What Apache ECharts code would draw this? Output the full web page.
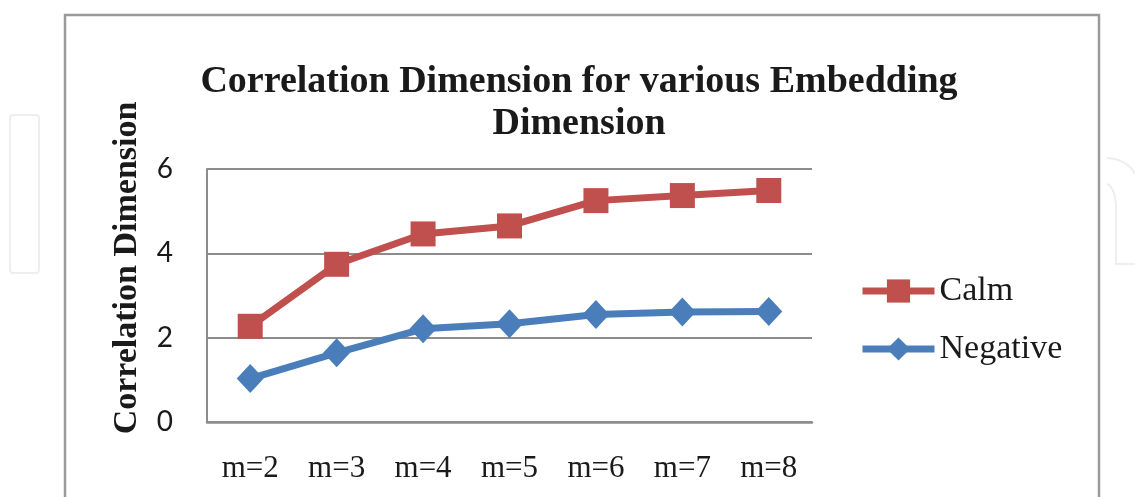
<!DOCTYPE html>
<html>
<head>
<meta charset="utf-8">
<title>Correlation Dimension for various Embedding Dimension</title>
<script src="https://cdn.jsdelivr.net/npm/echarts@6/dist/echarts.min.js"></script>
<style>
  html, body { margin: 0; padding: 0; background: #ffffff; }
  #chart { width: 1135px; height: 497px; }
</style>
</head>
<body>
<div id="chart"></div>
<script>
// Embedding dimensions on the x axis
const categories = ['m=2', 'm=3', 'm=4', 'm=5', 'm=6', 'm=7', 'm=8'];
// Correlation dimension per embedding dimension
const calmValues = [2.27, 3.74, 4.46, 4.65, 5.25, 5.37, 5.49];
const negativeValues = [1.03, 1.64, 2.21, 2.33, 2.55, 2.61, 2.62];
// Value axis ticks
const yTicks = [0, 2, 4, 6];

const serif = '"Liberation Serif", "Times New Roman", serif';
const sans = 'Lato, "Noto Sans", sans-serif';
const gridGray = '#8c8c8c';

const chart = echarts.init(document.getElementById('chart'), null, { renderer: 'canvas' });

chart.setOption({
  backgroundColor: '#ffffff',
  animation: false,
  title: {
    text: 'Correlation Dimension for various Embedding\nDimension',
    left: 574,
    textAlign: 'center',
    top: 56,
    textStyle: {
      fontFamily: serif,
      fontWeight: 'bold',
      fontSize: 38,
      lineHeight: 42,
      color: '#1a1a1a'
    }
  },
  legend: {
    orient: 'vertical',
    left: 854,
    top: 269,
    itemWidth: 72,
    itemHeight: 29,
    itemGap: 24,
    lineStyle: { width: 7 },
    textStyle: {
      fontFamily: serif,
      fontSize: 34,
      color: '#1a1a1a'
    },
    data: ['Calm', 'Negative']
  },
  grid: {
    left: 207,
    right: 323,
    top: 169,
    bottom: 75,
    containLabel: false
  },
  xAxis: {
    type: 'category',
    data: categories,
    boundaryGap: true,
    axisLine: { lineStyle: { color: gridGray, width: 2.5 } },
    axisTick: { show: false },
    axisLabel: {
      margin: 31,
      fontFamily: serif,
      fontSize: 31,
      color: '#1a1a1a'
    }
  },
  yAxis: {
    type: 'value',
    min: yTicks[0],
    max: yTicks[yTicks.length - 1],
    interval: 2,
    name: 'Correlation Dimension',
    nameLocation: 'middle',
    nameGap: 63,
    nameTextStyle: {
      fontFamily: serif,
      fontWeight: 'bold',
      fontSize: 34,
      color: '#1a1a1a',
      padding: [0, 0, 0, 55]
    },
    axisLine: { show: true, lineStyle: { color: gridGray, width: 2 } },
    axisTick: { show: false },
    axisLabel: {
      margin: 34,
      fontFamily: sans,
      fontSize: 28,
      color: '#1a1a1a'
    },
    splitLine: { lineStyle: { color: gridGray, width: 2 } }
  },
  series: [
    {
      name: 'Calm',
      type: 'line',
      data: calmValues,
      symbol: 'rect',
      symbolSize: 25,
      color: '#c0504d',
      lineStyle: { width: 7, color: '#c0504d' },
      itemStyle: { color: '#c0504d' },
      z: 3
    },
    {
      name: 'Negative',
      type: 'line',
      data: negativeValues,
      symbol: 'diamond',
      symbolSize: [27, 29],
      color: '#4a7ebb',
      lineStyle: { width: 7, color: '#4a7ebb' },
      itemStyle: { color: '#4a7ebb' },
      z: 3
    }
  ],
  graphic: [
    // chart frame
    {
      type: 'rect',
      shape: { x: 65, y: 15, width: 1034, height: 500 },
      style: { fill: 'none', stroke: '#9a9a9a', lineWidth: 2.5 },
      silent: true,
      z: -1
    },
    // faint page decoration on the left
    {
      type: 'rect',
      shape: { x: 10, y: 115, width: 29, height: 158, r: 3 },
      style: { fill: 'none', stroke: '#eeeeee', lineWidth: 2 },
      silent: true,
      z: -2
    },
    // faint page decoration on the right
    {
      type: 'bezierCurve',
      shape: { x1: 1107, y1: 158, x2: 1135, y2: 174, cpx1: 1127, cpy1: 159 },
      style: { fill: 'none', stroke: '#eeeeee', lineWidth: 2 },
      silent: true,
      z: -2
    },
    {
      type: 'bezierCurve',
      shape: { x1: 1107, y1: 184, x2: 1116, y2: 210, cpx1: 1116, cpy1: 188 },
      style: { fill: 'none', stroke: '#eeeeee', lineWidth: 2 },
      silent: true,
      z: -2
    },
    {
      type: 'polyline',
      shape: { points: [[1116, 210], [1116, 264], [1135, 264]] },
      style: { fill: 'none', stroke: '#eeeeee', lineWidth: 2 },
      silent: true,
      z: -2
    }
  ]
});
</script>
</body>
</html>
